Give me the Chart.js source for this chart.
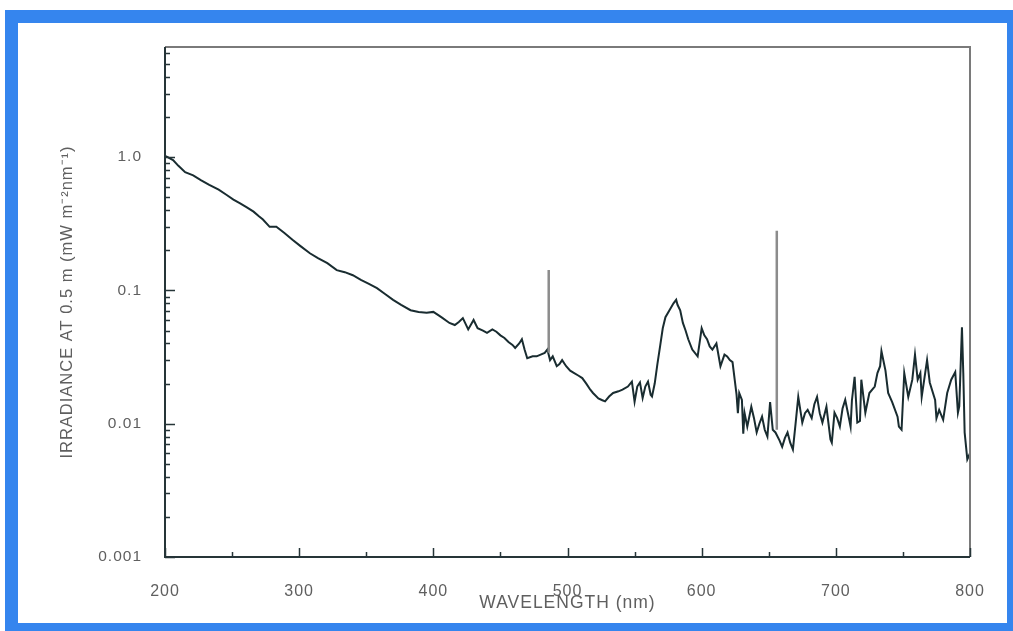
<!DOCTYPE html>
<html lang="en">
<head>
    <meta charset="UTF-8">
    <title>Irradiance at 0.5 m</title>
    <script src="https://cdn.jsdelivr.net/npm/chart.js"></script>
    <style>
        body {
            margin: 0;
            background: #ffffff;
            overflow: hidden;
            font-family: "Liberation Sans", Arial, sans-serif;
        }
        #frame {
            position: absolute;
            left: 5px;
            top: 10px;
            width: 1015px;
            height: 626px;
            box-sizing: border-box;
            border: 13px solid #3585ee;
            background: #ffffff;
        }
        #spectrumChart {
            position: absolute;
            left: 0;
            top: 0;
        }
    </style>
</head>
<body>
    <div id="frame"></div>
    <canvas id="spectrumChart" width="1013" height="631"></canvas>

    <script>
        // values (wavelength in nm, irradiance in mW m^-2 nm^-1)
        const wavelengths = [
            200, 202, 206, 210, 215, 221, 227, 233, 240, 246, 251, 256, 261, 266, 270, 273, 278, 283, 289, 295,
            301, 308, 314, 321, 328, 334, 340, 346, 352, 358, 364, 370, 376, 383, 389, 395, 400, 404, 407, 412,
            416, 419, 422, 426, 430, 433, 437, 440, 444, 447, 450, 453, 456, 459, 461, 464, 466, 468, 470, 474,
            477, 480, 483, 485, 487, 489, 492, 494, 496, 499, 502, 505, 508, 511, 514, 517, 519, 523, 526, 528,
            531, 534, 538, 541, 545, 548, 550, 552, 554, 556, 558, 560, 562, 563, 565, 567, 569, 571, 573, 576,
            579, 581, 582, 584, 586, 588, 590, 593, 597, 600, 602, 604, 606, 608, 611, 614, 617, 619, 621, 623,
            626, 627, 628, 630, 631, 632, 634, 637, 639, 641, 643, 645, 647, 649, 651, 653, 655, 658, 660, 662,
            664, 666, 668, 670, 672, 675, 677, 679, 682, 684, 686, 688, 690, 693, 696, 697, 699, 701, 703, 705,
            707, 710, 711, 712, 714, 716, 718, 719, 722, 725, 729, 731, 733, 734, 737, 739, 742, 746, 747, 749,
            751, 754, 757, 759, 761, 763, 764, 768, 770, 774, 775, 777, 780, 783, 786, 789, 791, 792, 794, 795,
            796, 798, 800
        ];
        const irradiance = [
            1.02, 1.0, 0.95, 0.86, 0.77, 0.73, 0.67, 0.62, 0.57, 0.52, 0.48, 0.45, 0.42, 0.39, 0.36, 0.34, 0.30, 0.30, 0.27, 0.24,
            0.215, 0.19, 0.175, 0.16, 0.142, 0.137, 0.13, 0.12, 0.112, 0.104, 0.094, 0.085, 0.078, 0.071, 0.069, 0.068, 0.069, 0.065, 0.062, 0.057,
            0.055, 0.058, 0.062, 0.051, 0.060, 0.052, 0.050, 0.048, 0.051, 0.049, 0.046, 0.044, 0.041, 0.039, 0.037, 0.040, 0.043, 0.036, 0.031, 0.032,
            0.032, 0.033, 0.034, 0.036, 0.030, 0.032, 0.027, 0.028, 0.030, 0.027, 0.025, 0.024, 0.023, 0.022, 0.020, 0.018, 0.017, 0.0155, 0.015, 0.0147,
            0.016, 0.017, 0.0175, 0.018, 0.019, 0.0207, 0.0146, 0.019, 0.0204, 0.0156, 0.019, 0.0207, 0.0165, 0.016, 0.020, 0.028, 0.038, 0.052, 0.063, 0.071,
            0.080, 0.085, 0.078, 0.071, 0.057, 0.050, 0.043, 0.036, 0.032, 0.052, 0.046, 0.043, 0.038, 0.036, 0.040, 0.027, 0.033, 0.032, 0.030, 0.029,
            0.0165, 0.012, 0.017, 0.0151, 0.0084, 0.012, 0.0095, 0.0134, 0.011, 0.0086, 0.010, 0.0113, 0.009, 0.0080, 0.0145, 0.009, 0.0086, 0.0075, 0.0067, 0.0078,
            0.0086, 0.0072, 0.0064, 0.010, 0.0159, 0.0102, 0.012, 0.0127, 0.011, 0.014, 0.0159, 0.012, 0.0102, 0.0134, 0.0076, 0.0072, 0.0121, 0.011, 0.0095, 0.013,
            0.0151, 0.0107, 0.0095, 0.015, 0.0225, 0.0102, 0.0105, 0.0214, 0.0121, 0.017, 0.019, 0.024, 0.027, 0.035, 0.025, 0.017, 0.0145, 0.0113, 0.0095, 0.009,
            0.024, 0.0159, 0.0214, 0.033, 0.0214, 0.024, 0.0159, 0.030, 0.0204, 0.0151, 0.011, 0.0127, 0.0107, 0.017, 0.0214, 0.0244, 0.0121, 0.0135, 0.053, 0.024,
            0.0086, 0.0054, 0.006
        ];

        // hydrogen emission lines (H-beta, H-alpha)
        const lineWavelengths = [486, 656];
        const lineBase = [0.034, 0.009];
        const linePeak = [0.142, 0.28];

        const xTickValues = [200, 300, 400, 500, 600, 700, 800];
        const xMinorTicks = [250, 350, 450, 550, 650, 750];
        const yTickValues = [0.001, 0.01, 0.1, 1];
        const yTickLabels = ['0.001', '0.01', '0.1', '1.0'];

        const xTitle = 'WAVELENGTH (nm)';
        const yTitle = 'IRRADIANCE AT 0.5 m (mW m\u207B\u00B2nm\u207B\u00B9)';

        const spectrum = wavelengths.map((w, i) => ({ x: w, y: irradiance[i] }));
        const lines = [];
        lineWavelengths.forEach((w, i) => {
            lines.push({ x: w, y: lineBase[i] }, { x: w, y: linePeak[i] }, { x: w, y: null });
        });

        const textColor = '#5f5f5f';
        const fontFamily = '"Liberation Sans", Arial, sans-serif';

        // plot frame and inward tick marks
        const framePlugin = {
            id: 'frame',
            beforeDraw(chart) {
                chart.ctx.letterSpacing = '1px';
            },
            afterDraw(chart) {
                const ctx = chart.ctx;
                const a = chart.chartArea;
                const xs = chart.scales.x;
                const ys = chart.scales.y;
                ctx.save();
                ctx.lineCap = 'butt';

                ctx.strokeStyle = '#7a7a7a';
                ctx.lineWidth = 2;
                ctx.beginPath();
                ctx.moveTo(a.left, a.top);
                ctx.lineTo(a.right, a.top);
                ctx.lineTo(a.right, a.bottom);
                ctx.stroke();

                ctx.strokeStyle = '#263538';
                ctx.beginPath();
                ctx.moveTo(a.left, a.top);
                ctx.lineTo(a.left, a.bottom);
                ctx.lineTo(a.right, a.bottom);
                ctx.stroke();

                ctx.lineWidth = 1.5;
                ctx.beginPath();
                xTickValues.forEach(v => {
                    const px = Math.round(xs.getPixelForValue(v)) + 0.5;
                    ctx.moveTo(px, a.bottom);
                    ctx.lineTo(px, a.bottom - 9);
                });
                xMinorTicks.forEach(v => {
                    const px = Math.round(xs.getPixelForValue(v)) + 0.5;
                    ctx.moveTo(px, a.bottom);
                    ctx.lineTo(px, a.bottom - 5);
                });
                yTickValues.forEach(v => {
                    const py = Math.round(ys.getPixelForValue(v)) + 0.5;
                    ctx.moveTo(a.left, py);
                    ctx.lineTo(a.left + 10, py);
                    for (let k = 2; k <= 9; k++) {
                        const m = v * k;
                        if (m > ys.max) break;
                        const q = Math.round(ys.getPixelForValue(m)) + 0.5;
                        ctx.moveTo(a.left, q);
                        ctx.lineTo(a.left + 5, q);
                    }
                });
                ctx.stroke();
                ctx.restore();
            }
        };

        const ctx = document.getElementById('spectrumChart').getContext('2d');
        new Chart(ctx, {
            type: 'line',
            data: {
                datasets: [
                    {
                        data: lines,
                        borderColor: '#8c8c8c',
                        borderWidth: 2.5,
                        pointRadius: 0,
                        spanGaps: false
                    },
                    {
                        data: spectrum,
                        borderColor: '#192c30',
                        borderWidth: 2,
                        pointRadius: 0,
                        tension: 0
                    }
                ]
            },
            options: {
                responsive: false,
                animation: false,
                devicePixelRatio: 1,
                layout: {
                    padding: { left: 50, top: 47, right: 43, bottom: 15 }
                },
                plugins: {
                    legend: { display: false },
                    tooltip: { enabled: false }
                },
                scales: {
                    x: {
                        type: 'linear',
                        min: 200,
                        max: 800,
                        afterFit: s => { s.height = 59; },
                        grid: { display: false },
                        border: { display: false },
                        ticks: {
                            stepSize: 100,
                            padding: 17,
                            color: textColor,
                            font: { family: fontFamily, size: 16 }
                        },
                        title: {
                            display: true,
                            text: xTitle,
                            color: textColor,
                            padding: { top: 0, bottom: 2 },
                            font: { family: fontFamily, size: 17.5 }
                        }
                    },
                    y: {
                        type: 'logarithmic',
                        min: 0.001,
                        max: 6.7,
                        afterFit: s => { s.width = 115; },
                        grid: { display: false },
                        border: { display: false },
                        ticks: {
                            autoSkip: false,
                            padding: 15,
                            color: textColor,
                            font: { family: fontFamily, size: 15.5 },
                            callback: value => {
                                const i = yTickValues.findIndex(t => Math.abs(value - t) < t * 1e-6);
                                return i >= 0 ? yTickLabels[i] : '';
                            }
                        },
                        title: {
                            display: true,
                            text: yTitle,
                            color: textColor,
                            padding: { top: 8, bottom: 0 },
                            font: { family: fontFamily, size: 16.5 }
                        }
                    }
                }
            },
            plugins: [framePlugin]
        });
    </script>
</body>
</html>
